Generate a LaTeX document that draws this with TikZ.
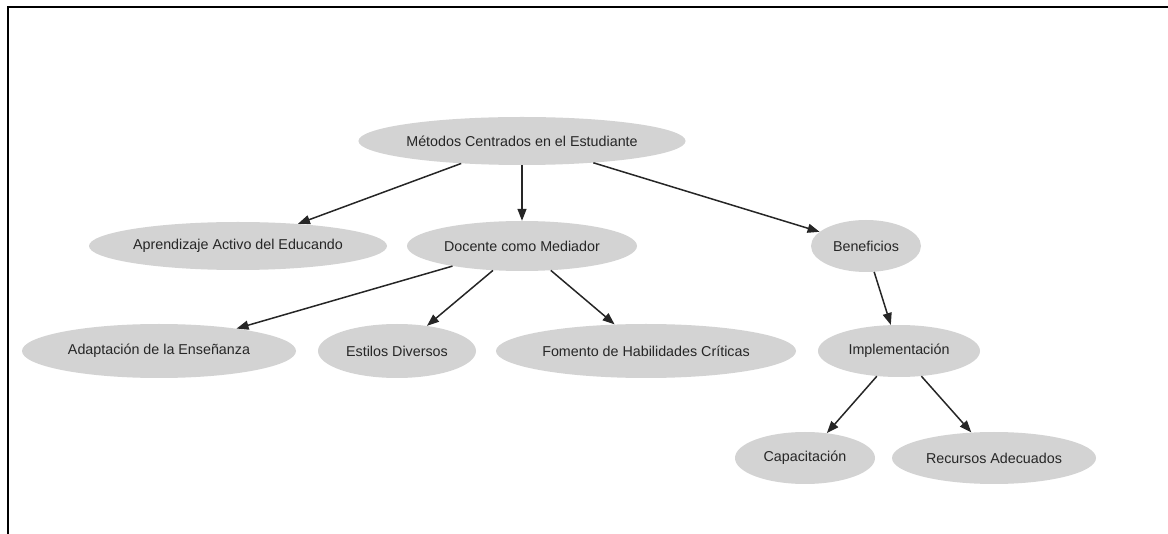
\documentclass[tikz,border=0pt]{standalone}
\usepackage{fontspec}
\setmainfont{Liberation Sans}
\usetikzlibrary{shapes.geometric,arrows.meta}
\definecolor{nodefill}{HTML}{D3D3D3}
\definecolor{txt}{HTML}{262626}
\tikzset{
  ell/.style={ellipse, fill=nodefill, draw=none, inner sep=0pt, text=txt,
    font=\fontsize{14.3}{16}\selectfont},
  conn/.style={draw=black!85, line width=1.5pt, -{Triangle[length=12pt,width=9pt]}}
}
\begin{document}
\begin{tikzpicture}[x=1pt,y=-1pt]
\useasboundingbox (0,0) rectangle (1168,534);
\draw[line width=2pt, black] (8,534) -- (8,7) -- (1168,7);
\node[ell, minimum width=324pt, minimum height=48pt] (m) at (522,141) {Métodos Centrados en el Estudiante};
\node[ell, minimum width=298pt, minimum height=48pt] (a) at (238,246) {Aprendizaje Activo del Educando};
\node[ell, minimum width=230pt, minimum height=50pt] (d) at (522,246) {Docente como Mediador};
\node[ell, minimum width=110pt, minimum height=52pt] (b) at (866,246) {Beneficios};
\node[ell, minimum width=274pt, minimum height=54pt] (ad) at (159,351) {Adaptación de la Enseñanza};
\node[ell, minimum width=158pt, minimum height=54pt] (e) at (397,351) {Estilos Diversos};
\node[ell, minimum width=300pt, minimum height=54pt] (f) at (646,351) {Fomento de Habilidades Críticas};
\node[ell, minimum width=162pt, minimum height=52pt] (i) at (899,351) {Implementación};
\node[ell, minimum width=140pt, minimum height=52pt] (c) at (805,458) {Capacitación};
\node[ell, minimum width=204pt, minimum height=52pt] (r) at (994,458) {Recursos Adecuados};
\draw[conn] (m) -- (a);
\draw[conn] (m) -- (d);
\draw[conn] (m) -- (b);
\draw[conn] (d) -- (ad);
\draw[conn] (d) -- (e);
\draw[conn] (d) -- (f);
\draw[conn] (b) -- (i);
\draw[conn] (i) -- (c);
\draw[conn] (i) -- (r);
\end{tikzpicture}
\end{document}
